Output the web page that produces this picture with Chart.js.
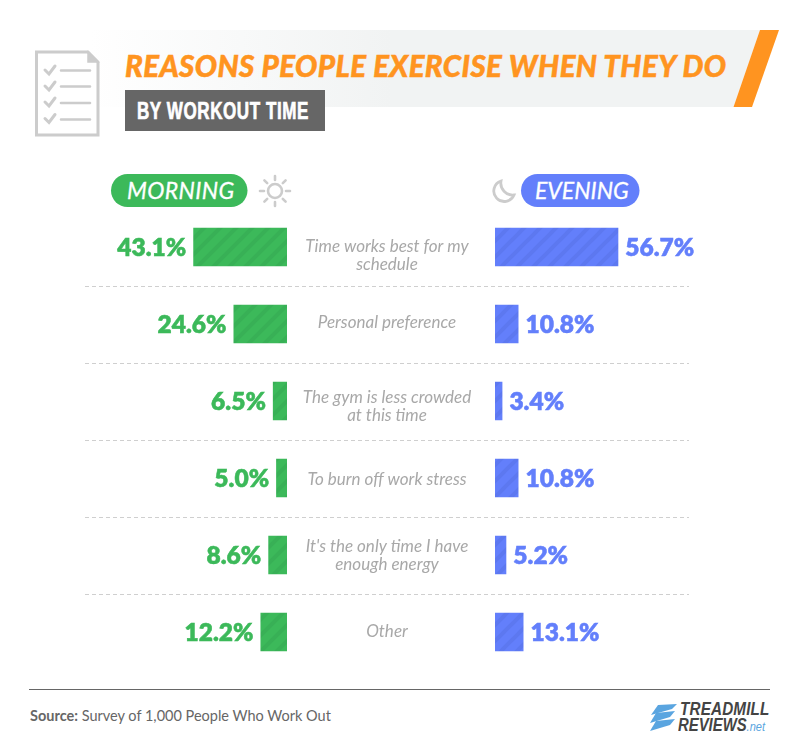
<!DOCTYPE html>
<html>
<head>
<meta charset="utf-8">
<title>Reasons People Exercise When They Do</title>
<script src="https://cdn.jsdelivr.net/npm/chart.js@4"></script>
<style>
  html, body { margin: 0; background: #fff; }
  #page { position: relative; width: 801px; height: 753px; overflow: hidden; font-family: Lato, sans-serif; }
  #page canvas, #page svg { position: absolute; left: 0; top: 0; }
  .txt { position: absolute; white-space: nowrap; line-height: 1; transform-origin: left top; }
  #title { left: 125px; top: 50.5px; font-size: 29.5px; font-weight: 900; font-style: italic; color: #ff9420; letter-spacing: .4px; -webkit-text-stroke: .5px #ff9420; }
  #sub { left: 137px; top: 99px; font-family: "Liberation Sans", sans-serif; font-size: 24px; font-weight: 700; color: #fff; letter-spacing: .8px; -webkit-text-stroke: .7px #fff; transform: scaleX(.71); }
  .pill { font-size: 23px; font-style: italic; color: #fff; top: 179px; -webkit-text-stroke: .3px #fff; }
  #source { left: 30px; top: 709px; font-size: 14.5px; color: #666; }
  #source b { font-weight: 700; }
  #logo1, #logo2 { font-family: "Liberation Sans", sans-serif; font-weight: 700; font-style: italic; font-size: 17.5px; color: #444; }
  #logo1 { left: 680px; top: 701px; letter-spacing: .2px; transform: scaleX(.87); }
  #logo2 { left: 678px; top: 717px; transform: scaleX(.85); }
  #logo2 span { color: #5aa5e0; font-size: 13px; font-weight: 400; }
</style>
</head>
<body>
<div id="page">
  <svg width="801" height="753" viewBox="0 0 801 753">
    <defs>
      <linearGradient id="band" x1="0" x2="1" y1="0" y2="0">
        <stop offset="0" stop-color="#f1f3f3" stop-opacity="0"/>
        <stop offset=".45" stop-color="#f1f3f3"/>
        <stop offset="1" stop-color="#f1f3f3"/>
      </linearGradient>
    </defs>
    <!-- header -->
    <polygon points="90,30 760,30 733.5,107 90,107" fill="url(#band)"/>
    <polygon points="760,30 779,30 752,107 733.5,107" fill="#ff9420"/>
    <rect x="125" y="90" width="200" height="41" fill="#666"/>
    <!-- document icon -->
    <path d="M36.5 52 H88 L98 62 V135 H36.5 Z" fill="#fff" stroke="#ccc" stroke-width="3"/>
    <path d="M88 52 V62 H98 Z" fill="#ccc" stroke="#ccc" stroke-width="1.5"/>
    <g fill="none" stroke="#ccc" stroke-width="2.6" stroke-linecap="round">
      <path d="M61 70.5 H90 M61 86.5 H90 M61 103 H90 M61 119.5 H90"/>
      <path d="M45 70 L49 74 L55 66 M45 86 L49 90 L55 82 M45 102 L49 106 L55 98 M45 118.5 L49 122.5 L55 114.5" stroke-width="3"/>
    </g>
    <!-- pills -->
    <rect x="111" y="174" width="136.5" height="33" rx="16.5" fill="#3cb95a"/>
    <rect x="521" y="174" width="118.5" height="33" rx="16.5" fill="#637ffb"/>
    <!-- sun -->
    <circle cx="275" cy="191" r="7" fill="none" stroke="#ccc" stroke-width="2.6"/>
    <g stroke="#ccc" stroke-width="2.6" stroke-linecap="round">
      <path d="M275 176 V180 M275 202 V206 M260 191 H264 M286 191 H290 M264.4 180.4 L267.2 183.2 M282.8 198.8 L285.6 201.6 M285.6 180.4 L282.8 183.2 M267.2 198.8 L264.4 201.6"/>
    </g>
    <!-- moon -->
    <path d="M501 181 A10.5 10.5 0 1 0 514 195 A12 12 0 0 1 501 181 Z" fill="#fff" stroke="#ccc" stroke-width="2.8"/>
    <!-- footer -->
    <line x1="29" x2="770" y1="689.5" y2="689.5" stroke="#666" stroke-width="1"/>
    <g fill="#5aa5e0">
      <polygon points="658,705 677,704 672,709 651,715"/>
      <polygon points="656,713 675,711 670,717 650,723"/>
      <polygon points="656,721 675,719 670,725 650,731"/>
    </g>
  </svg>
  <div class="txt" id="title">REASONS PEOPLE EXERCISE WHEN THEY DO</div>
  <div class="txt" id="sub">BY WORKOUT TIME</div>
  <div class="txt pill" style="left:127px;letter-spacing:.4px">MORNING</div>
  <div class="txt pill" style="left:535px">EVENING</div>
  <div class="txt" id="source"><b>Source:</b> Survey of 1,000 People Who Work Out</div>
  <div class="txt" id="logo1">TREADMILL</div>
  <div class="txt" id="logo2">REVIEWS<span>.net</span></div>
  <canvas id="morningChart" width="801" height="753"></canvas>
  <canvas id="eveningChart" width="801" height="753"></canvas>
</div>
<script>
const categories = [
  ['Time works best for my', 'schedule'],
  ['Personal preference'],
  ['The gym is less crowded', 'at this time'],
  ['To burn off work stress'],
  ["It's the only time I have", 'enough energy'],
  ['Other']
];
const morning = [43.1, 24.6, 6.5, 5.0, 8.6, 12.2];
const evening = [56.7, 10.8, 3.4, 10.8, 5.2, 13.1];

const GREEN = '#3cb95a';
const BLUE = '#637ffb';
// the wrapped labels do not sit dead centre on their row in the original
const labelShift = [9, -1, 6, 2, 1, 0];

// diagonal stripes on the bars
function hatch(base, dark) {
  const c = document.createElement('canvas');
  c.width = c.height = 16;
  const g = c.getContext('2d');
  g.fillStyle = base;
  g.fillRect(0, 0, 16, 16);
  g.strokeStyle = dark;
  g.lineWidth = 4;
  [[-8, 8, 8, -8], [0, 16, 16, 0], [8, 24, 24, 8]].forEach(p => {
    g.beginPath();
    g.moveTo(p[0], p[1]);
    g.lineTo(p[2], p[3]);
    g.stroke();
  });
  return g.createPattern(c, 'repeat');
}

// value labels next to the bar ends
const valueLabels = {
  id: 'valueLabels',
  afterDatasetsDraw(chart) {
    const ctx = chart.ctx;
    const ds = chart.data.datasets[0];
    const left = chart.canvas.id === 'morningChart';
    ctx.save();
    ctx.font = '800 24.5px Lato, sans-serif';
    ctx.fillStyle = ds.labelColor;
    ctx.strokeStyle = ds.labelColor;
    ctx.lineWidth = 0.5;
    ctx.textBaseline = 'middle';
    ctx.textAlign = left ? 'right' : 'left';
    chart.getDatasetMeta(0).data.forEach((bar, i) => {
      const label = ds.data[i].toFixed(1) + '%';
      const px = bar.x + (left ? -7 : 7);
      ctx.fillText(label, px, bar.y + 1);
      ctx.strokeText(label, px, bar.y + 1);
    });
    ctx.restore();
  }
};

// dashed separators and the category text in the middle column
const rowLines = {
  id: 'rowLines',
  beforeDraw(chart) {
    const ctx = chart.ctx;
    const y = chart.scales.y;
    ctx.save();
    ctx.strokeStyle = '#cfcfcf';
    ctx.lineWidth = 1;
    ctx.setLineDash([4, 3]);
    for (let i = 0; i < categories.length - 1; i++) {
      const py = Math.round(y.getPixelForValue(i + 0.5)) + 0.5;
      ctx.beginPath();
      ctx.moveTo(85, py);
      ctx.lineTo(689, py);
      ctx.stroke();
    }
    ctx.setLineDash([]);
    ctx.font = 'italic 17px Lato, sans-serif';
    ctx.fillStyle = '#a8a8a8';
    ctx.textAlign = 'center';
    ctx.textBaseline = 'middle';
    categories.forEach((lines, i) => {
      const top = y.getPixelForValue(i) + labelShift[i] - (lines.length - 1) * 9;
      lines.forEach((line, k) => ctx.fillText(line, 387, top + k * 18));
    });
    ctx.restore();
  }
};

function sideChart(id, values, base, dark, padding) {
  return new Chart(document.getElementById(id), {
    type: 'bar',
    data: {
      labels: categories,
      datasets: [{
        data: values,
        backgroundColor: hatch(base, dark),
        labelColor: base,
        barPercentage: 0.5,
        categoryPercentage: 1
      }]
    },
    options: {
      indexAxis: 'y',
      responsive: false,
      animation: false,
      layout: { padding },
      plugins: { legend: { display: false }, tooltip: { enabled: false } },
      scales: {
        x: { display: false, min: 0, max: 60, reverse: id === 'morningChart' },
        y: { display: false }
      }
    },
    plugins: id === 'morningChart' ? [valueLabels, rowLines] : [valueLabels]
  });
}

sideChart('morningChart', morning, GREEN, '#38b056',
  { left: 156.5, right: 514, top: 208.5, bottom: 82.5 });
sideChart('eveningChart', evening, BLUE, '#5d78f0',
  { left: 495, right: 175.5, top: 208.5, bottom: 82.5 });
</script>
</body>
</html>
